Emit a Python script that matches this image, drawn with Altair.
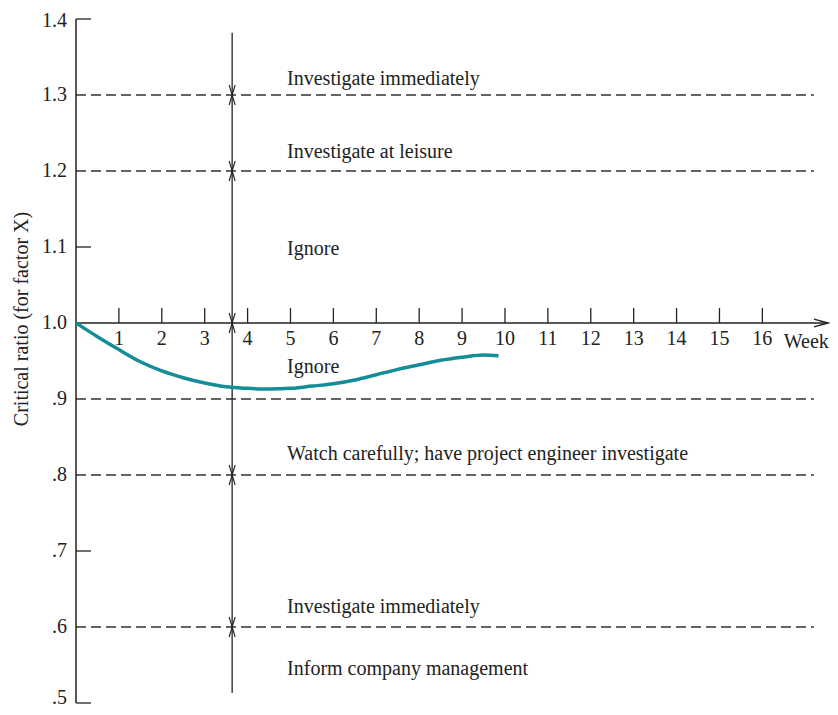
import altair as alt
import pandas as pd

# ---- data ----
weeks = [0, 0.5, 1, 1.5, 2, 2.5, 3, 3.5, 4, 4.5, 5, 5.5, 6, 6.5, 7, 7.5, 8, 8.5, 9, 9.5, 9.85]
ratio = [1.0, 0.982, 0.965, 0.949, 0.937, 0.928, 0.921, 0.916, 0.914, 0.913, 0.914,
         0.917, 0.920, 0.925, 0.932, 0.939, 0.945, 0.951, 0.955, 0.958, 0.957]

dashed_levels = [1.3, 1.2, 0.9, 0.8, 0.6]
arrow_levels = [1.3, 1.2, 1.0, 0.8, 0.6]
y_top_value = [1.4]
y_top_label = ["1.4"]
y_tick_values = [1.3, 1.2, 1.1, 1.0, 0.9, 0.8, 0.7, 0.6]
y_tick_labels = ["1.3", "1.2", "1.1", "1.0", ".9", ".8", ".7", ".6"]
y_bottom_value = [0.5]
y_bottom_label = [".5"]
short_tick_values = [1.4, 1.1, 0.7, 0.5]
x_tick_values = list(range(1, 17))
x_tick_labels = [str(v) for v in x_tick_values]

zone_labels = ["Investigate immediately", "Investigate at leisure", "Ignore", "Ignore",
               "Watch carefully; have project engineer investigate",
               "Investigate immediately", "Inform company management"]
zone_y = [1.321, 1.225, 1.098, 0.9425, 0.827, 0.626, 0.545]
zone_x = 4.92

control_week = 3.64
control_top = 1.382
control_bottom = 0.513
x_max = 17.53
dash_end = 17.2

FONT = "Liberation Serif"
INK = "#222222"
FS = 20

xs = alt.Scale(domain=[0, x_max], nice=False, zero=False)
ys = alt.Scale(domain=[0.5, 1.4], nice=False, zero=False)


def X(f):
    return alt.X(f, type="quantitative", scale=xs, axis=None)


def Y(f):
    return alt.Y(f, type="quantitative", scale=ys, axis=None)


# axis lines
yaxis_df = pd.DataFrame({"x": [0], "y": [0.5], "y2": [1.4]})
yaxis = alt.Chart(yaxis_df).mark_rule(color=INK, strokeWidth=1.5).encode(
    x=X("x"), y=Y("y"), y2="y2")

short_df = pd.DataFrame({"x": [0] * len(short_tick_values), "x2": [0.35] * len(short_tick_values),
                         "y": short_tick_values})
short_ticks = alt.Chart(short_df).mark_rule(color=INK, strokeWidth=1.3).encode(
    x=X("x"), x2="x2", y=Y("y"))

xaxis_df = pd.DataFrame({"x": [0], "x2": [x_max], "y": [1.0]})
xaxis = alt.Chart(xaxis_df).mark_rule(color=INK, strokeWidth=1.5).encode(
    x=X("x"), x2="x2", y=Y("y"))

xt_df = pd.DataFrame({"x": x_tick_values, "y": [1.0] * 16, "y2": [1.0196] * 16,
                      "label": x_tick_labels})
x_ticks = alt.Chart(xt_df).mark_rule(color=INK, strokeWidth=1.3).encode(
    x=X("x"), y=Y("y"), y2="y2")
x_labels = alt.Chart(xt_df).mark_text(font=FONT, fontSize=FS, color=INK, baseline="middle",
                                      align="center", dy=16).encode(
    x=X("x"), y=Y("y"), text="label")

week_df = pd.DataFrame({"x": [16.5], "y": [1.0], "label": ["Week"]})
week_label = alt.Chart(week_df).mark_text(font=FONT, fontSize=FS, color=INK, baseline="middle",
                                          align="left", dy=19).encode(
    x=X("x"), y=Y("y"), text="label")

arrow_df = pd.DataFrame({"x": [x_max], "y": [1.0]})
x_arrow = alt.Chart(arrow_df).mark_point(shape="M -1 -0.28 L 0 0 L -1 0.28", size=784,
                                         filled=False, color=INK, strokeWidth=1.4, opacity=1).encode(
    x=X("x"), y=Y("y"))

dash_df = pd.DataFrame({"x": [0] * 5, "x2": [dash_end] * 5, "y": dashed_levels})
dashes = alt.Chart(dash_df).mark_rule(color="#333333", strokeWidth=1.3, strokeDash=[10, 5]).encode(
    x=X("x"), x2="x2", y=Y("y"))

ctrl_df = pd.DataFrame({"x": [control_week], "y": [control_bottom], "y2": [control_top]})
ctrl = alt.Chart(ctrl_df).mark_rule(color=INK, strokeWidth=1.3).encode(
    x=X("x"), y=Y("y"), y2="y2")

arr_df = pd.DataFrame({"x": [control_week] * 5, "y": arrow_levels})
arr_down = alt.Chart(arr_df).mark_point(shape="M -0.3 -1 L 0 0 L 0.3 -1", size=400, filled=False,
                                        color=INK, strokeWidth=1.1, opacity=1).encode(
    x=X("x"), y=Y("y"))
arr_up = alt.Chart(arr_df).mark_point(shape="M -0.3 1 L 0 0 L 0.3 1", size=400, filled=False,
                                      color=INK, strokeWidth=1.1, opacity=1).encode(
    x=X("x"), y=Y("y"))

curve_df = pd.DataFrame({"week": weeks, "ratio": ratio})
curve = alt.Chart(curve_df).mark_line(color="#138d98", strokeWidth=3.5, interpolate="monotone").encode(
    x=X("week"), y=Y("ratio"))

zone_df = pd.DataFrame({"x": [zone_x] * len(zone_labels), "y": zone_y, "label": zone_labels})
zones = alt.Chart(zone_df).mark_text(font=FONT, fontSize=FS, color=INK, align="left",
                                     baseline="middle").encode(
    x=X("x"), y=Y("y"), text="label")

yl_df = pd.DataFrame({"x": [0] * len(y_tick_values), "y": y_tick_values, "label": y_tick_labels})
y_labels = alt.Chart(yl_df).mark_text(font=FONT, fontSize=FS, color=INK, align="right",
                                      baseline="middle", dx=-9).encode(
    x=X("x"), y=Y("y"), text="label")

yt_df = pd.DataFrame({"x": [0], "y": y_top_value, "label": y_top_label})
y_label_top = alt.Chart(yt_df).mark_text(font=FONT, fontSize=FS, color=INK, align="right",
                                         baseline="middle", dx=-9, dy=2).encode(
    x=X("x"), y=Y("y"), text="label")

yb_df = pd.DataFrame({"x": [0], "y": y_bottom_value, "label": y_bottom_label})
y_label_bottom = alt.Chart(yb_df).mark_text(font=FONT, fontSize=FS, color=INK, align="right",
                                            baseline="middle", dx=-9, dy=-5).encode(
    x=X("x"), y=Y("y"), text="label")

title_df = pd.DataFrame({"label": ["Critical ratio (for factor X)"]})
y_title = alt.Chart(title_df).mark_text(font=FONT, fontSize=FS, color=INK, angle=270,
                                        align="center", baseline="middle").encode(
    x=alt.value(-54), y=alt.value(300), text="label")

chart = alt.layer(
    dashes, ctrl, arr_down, arr_up, yaxis, short_ticks, xaxis, x_ticks, x_arrow,
    curve, x_labels, week_label, zones, y_labels, y_label_top, y_label_bottom, y_title
).properties(
    width=752, height=684,
    autosize=alt.AutoSizeParams(type="none"),
    padding={"left": 68, "top": 11, "right": 2, "bottom": 4},
).configure_view(stroke=None)

chart.save("out.html", embed_options={"renderer": "svg", "actions": False})
